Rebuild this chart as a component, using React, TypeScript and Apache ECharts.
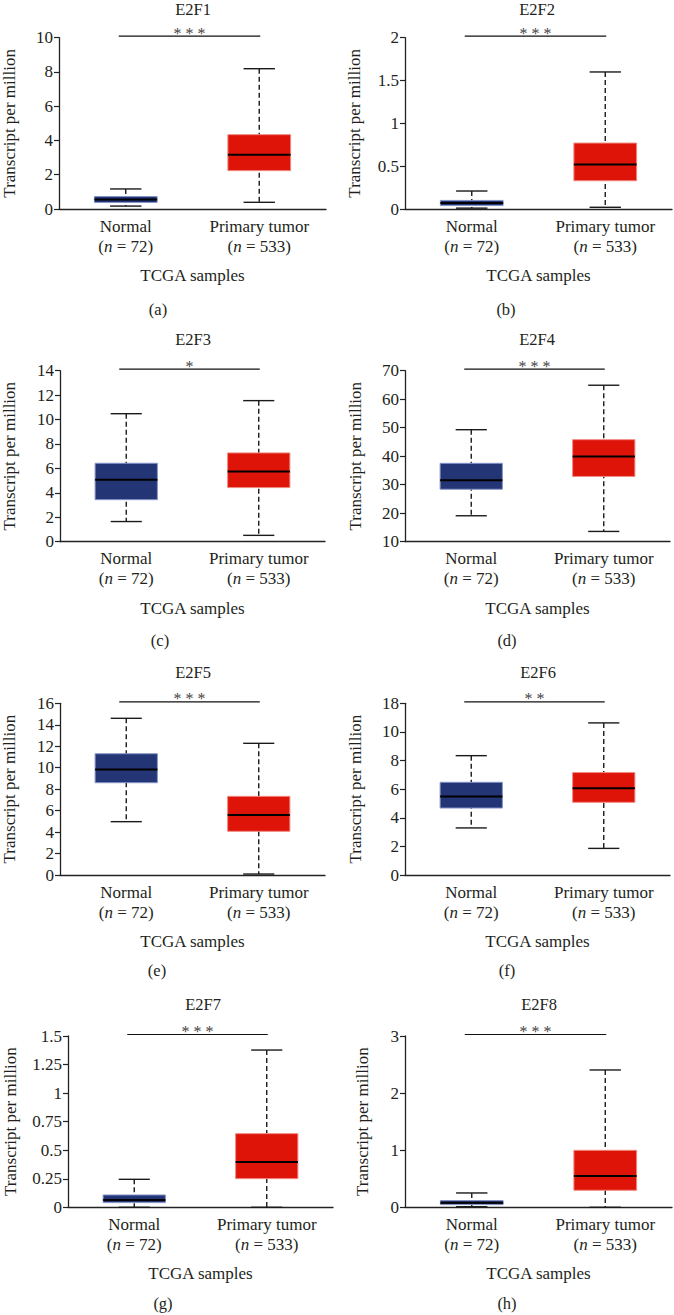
import React, { useEffect, useRef } from "react";
import * as echarts from "echarts";

// ---------- data ----------
const genes = ["E2F1", "E2F2", "E2F3", "E2F4", "E2F5", "E2F6", "E2F7", "E2F8"];
const panelLetters = ["(a)", "(b)", "(c)", "(d)", "(e)", "(f)", "(g)", "(h)"];
const significance = ["***", "***", "*", "***", "***", "**", "***", "***"];
const categories = ["Normal", "Primary tumor"];
const sampleCounts = [72, 533];
const xAxisTitle = "TCGA samples";
const yAxisTitle = "Transcript per million";

// [min, Q1, median, Q3, max]
const e2f1Normal = [0.17, 0.38, 0.55, 0.73, 1.17];
const e2f1Tumor = [0.39, 2.24, 3.17, 4.34, 8.19];
const e2f2Normal = [0.01, 0.04, 0.07, 0.1, 0.21];
const e2f2Tumor = [0.02, 0.33, 0.52, 0.77, 1.6];
const e2f3Normal = [1.65, 3.44, 5.08, 6.42, 10.48];
const e2f3Tumor = [0.52, 4.43, 5.74, 7.27, 11.55];
const e2f4Normal = [19.1, 28.4, 31.6, 37.5, 49.3];
const e2f4Tumor = [13.6, 32.9, 39.9, 45.8, 64.9];
const e2f5Normal = [4.97, 8.6, 9.82, 11.3, 14.6];
const e2f5Tumor = [0.09, 4.07, 5.59, 7.33, 12.27];
const e2f6Normal = [3.29, 4.68, 5.48, 6.48, 8.34];
const e2f6Tumor = [1.86, 5.08, 6.06, 7.16, 10.63];
const e2f7Normal = [0.0, 0.041, 0.064, 0.108, 0.245];
const e2f7Tumor = [0.0, 0.251, 0.397, 0.645, 1.377];
const e2f8Normal = [0.01, 0.047, 0.08, 0.117, 0.251];
const e2f8Tumor = [0.0, 0.298, 0.549, 0.998, 2.405];

const normalStats = [e2f1Normal, e2f2Normal, e2f3Normal, e2f4Normal, e2f5Normal, e2f6Normal, e2f7Normal, e2f8Normal];
const tumorStats = [e2f1Tumor, e2f2Tumor, e2f3Tumor, e2f4Tumor, e2f5Tumor, e2f6Tumor, e2f7Tumor, e2f8Tumor];

// y axis scales and tick labels
const axisMin = [0, 0, 0, 10, 0, 0, 0, 0];
const axisMax = [10, 2, 14, 70, 16, 12, 1.5, 3];
const axisStep = [2, 0.5, 2, 10, 2, 2, 0.25, 1];
const yTicks1 = ["0", "2", "4", "6", "8", "10"];
const yTicks2 = ["0", "0.5", "1", "1.5", "2"];
const yTicks3 = ["0", "2", "4", "6", "8", "10", "12", "14"];
const yTicks4 = ["10", "20", "30", "40", "50", "60", "70"];
const yTicks5 = ["0", "2", "4", "6", "8", "10", "12", "14", "16"];
const yTicks6 = ["0", "2", "4", "6", "8", "10", "18"];
const yTicks7 = ["0", "0.25", "0.5", "0.75", "1", "1.25", "1.5"];
const yTicks8 = ["0", "1", "2", "3"];
const yTickLabels = [yTicks1, yTicks2, yTicks3, yTicks4, yTicks5, yTicks6, yTicks7, yTicks8];

// ---------- layout / style ----------
const FONT = "'Liberation Serif', 'Times New Roman', serif";
const TEXT = "#231f20";
const NORMAL_FILL = "#233574";
const NORMAL_EDGE = "#8595c9";
const TUMOR_FILL = "#df1409";
const TUMOR_EDGE = "#f08a80";

const gridLayout = [
  { left: 58, top: 37.7, width: 268, height: 171.3 },
  { left: 405, top: 37.7, width: 267, height: 171.3 },
  { left: 59, top: 370.7, width: 266, height: 171 },
  { left: 405, top: 370.7, width: 265, height: 171 },
  { left: 59, top: 703.3, width: 266, height: 171.7 },
  { left: 405, top: 703.3, width: 265, height: 171.7 },
  { left: 68, top: 1036, width: 265, height: 171.3 },
  { left: 405, top: 1036, width: 267, height: 171.3 },
];
const titlePos = [[193, 9], [537, 9], [193, 339], [537, 339], [193, 672], [538, 672], [203, 1004], [539, 1004]];
const letterPos = [[158, 309], [506, 309], [160, 640], [507, 640], [157, 970], [507, 970], [163, 1303], [507, 1303]];
const yNameGap = [41, 42, 42, 41, 42, 41, 49, 34];

function makeBoxRenderer() {
  return (params: any, api: any) => {
    const cat = api.value(0);
    const c = (v: number) => api.coord([cat, v]);
    const x = c(api.value(1))[0];
    const yMin = c(api.value(1))[1];
    const yQ1 = c(api.value(2))[1];
    const yMed = c(api.value(3))[1];
    const yQ3 = c(api.value(4))[1];
    const yMax = c(api.value(5))[1];
    const bw = api.size([1, 0])[0] * 0.47;
    const capW = bw * 0.5;
    const fill = cat === 0 ? NORMAL_FILL : TUMOR_FILL;
    const edge = cat === 0 ? NORMAL_EDGE : TUMOR_EDGE;
    const ink = "#1a1a1a";
    return {
      type: "group",
      children: [
        { type: "line", shape: { x1: x, y1: yMax, x2: x, y2: yMin }, style: { stroke: ink, lineWidth: 1.4, lineDash: [5, 3] } },
        { type: "line", shape: { x1: x - capW / 2, y1: yMax, x2: x + capW / 2, y2: yMax }, style: { stroke: ink, lineWidth: 1.4 } },
        { type: "line", shape: { x1: x - capW / 2, y1: yMin, x2: x + capW / 2, y2: yMin }, style: { stroke: ink, lineWidth: 1.4 } },
        { type: "rect", shape: { x: x - bw / 2, y: yQ3, width: bw, height: yQ1 - yQ3 }, style: { fill, stroke: edge, lineWidth: 1 } },
        { type: "line", shape: { x1: x - bw / 2, y1: yMed, x2: x + bw / 2, y2: yMed }, style: { stroke: "#000", lineWidth: 2 } },
      ],
    };
  };
}

function makeSigRenderer(stars: string) {
  const richText = stars.split("").map(() => "{s|*}").join("");
  return (params: any, api: any) => {
    const top = api.value(1);
    const p0 = api.coord([0, top]);
    const p1 = api.coord([1, top]);
    const y = p0[1] - 1.5;
    return {
      type: "group",
      children: [
        { type: "line", shape: { x1: p0[0] - 7, y1: y, x2: p1[0] + 1, y2: y }, style: { stroke: "#111", lineWidth: 1.2 } },
        {
          type: "text",
          style: {
            text: richText,
            x: (p0[0] - 7 + p1[0] + 1) / 2,
            y: y - 3,
            align: "center",
            verticalAlign: "middle",
            textAlign: "center",
            textVerticalAlign: "middle",
            rich: {
              s: { fontFamily: FONT, fontSize: 16, fill: "#444", color: "#444", padding: [0, 2, 0, 2] },
            },
          },
        },
      ],
    };
  };
}

function buildOption() {
  const grid: any[] = [];
  const xAxis: any[] = [];
  const yAxis: any[] = [];
  const series: any[] = [];
  const graphic: any[] = [];

  genes.forEach((gene, i) => {
    grid.push({ ...gridLayout[i], containLabel: false });
    xAxis.push({
      type: "category",
      gridIndex: i,
      data: categories,
      boundaryGap: true,
      axisLine: { show: true, lineStyle: { color: "#222", width: 1.3 } },
      axisTick: { show: false },
      splitLine: { show: false },
      axisLabel: {
        margin: 7,
        interval: 0,
        formatter: (v: string, idx: number) => `{t|${v}}\n{p|(}{i|n}{p| = ${sampleCounts[idx]})}`,
        rich: {
          t: { fontFamily: FONT, fontSize: 17, color: TEXT, lineHeight: 20 },
          p: { fontFamily: FONT, fontSize: 17, color: TEXT, lineHeight: 20 },
          i: { fontFamily: FONT, fontSize: 17, color: TEXT, lineHeight: 20, fontStyle: "italic" },
        },
      },
      name: xAxisTitle,
      nameLocation: "middle",
      nameGap: 58,
      nameTextStyle: { fontFamily: FONT, fontSize: 17, color: TEXT },
    });
    const ticks = yTickLabels[i];
    yAxis.push({
      type: "value",
      gridIndex: i,
      min: axisMin[i],
      max: axisMax[i],
      interval: axisStep[i],
      axisLine: { show: true, lineStyle: { color: "#222", width: 1.3 } },
      axisTick: { show: true, length: 5, lineStyle: { color: "#222", width: 1.2 } },
      splitLine: { show: false },
      axisLabel: {
        margin: 6,
        fontFamily: FONT,
        fontSize: 17,
        color: TEXT,
        formatter: (v: number) => {
          const k = Math.round((v - axisMin[i]) / axisStep[i]);
          return ticks[k] ?? String(v);
        },
      },
      name: yAxisTitle,
      nameLocation: "middle",
      nameGap: yNameGap[i],
      nameRotate: 90,
      nameTextStyle: { fontFamily: FONT, fontSize: 17, color: TEXT },
    });
    series.push({
      type: "custom",
      xAxisIndex: i,
      yAxisIndex: i,
      renderItem: makeBoxRenderer(),
      encode: { x: 0, y: [1, 2, 3, 4, 5] },
      data: [
        [0, ...normalStats[i]],
        [1, ...tumorStats[i]],
      ],
      silent: true,
    });
    series.push({
      type: "custom",
      xAxisIndex: i,
      yAxisIndex: i,
      renderItem: makeSigRenderer(significance[i]),
      encode: { x: 0, y: 1 },
      data: [[0, axisMax[i]]],
      silent: true,
    });
    graphic.push({
      type: "text",
      x: titlePos[i][0],
      y: titlePos[i][1],
      style: { text: gene, font: `16.5px ${FONT}`, fill: TEXT, textAlign: "center", textVerticalAlign: "middle" },
    });
    graphic.push({
      type: "text",
      x: letterPos[i][0],
      y: letterPos[i][1],
      style: { text: panelLetters[i], font: `16.5px ${FONT}`, fill: TEXT, textAlign: "center", textVerticalAlign: "middle" },
    });
  });

  return {
    animation: false,
    backgroundColor: "#ffffff",
    grid,
    xAxis,
    yAxis,
    series,
    graphic,
  };
}

export default function App() {
  const ref = useRef<HTMLDivElement>(null);
  useEffect(() => {
    if (!ref.current) return;
    const chart = echarts.init(ref.current, undefined, { renderer: "svg" });
    chart.setOption(buildOption() as any);
    return () => chart.dispose();
  }, []);
  return (
    <div
      ref={ref}
      style={{ position: "absolute", left: 0, top: 0, width: 674, height: 1315, background: "#fff" }}
    />
  );
}
